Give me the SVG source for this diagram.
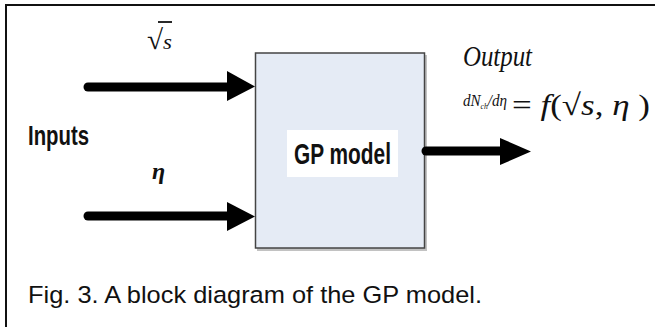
<svg xmlns="http://www.w3.org/2000/svg" width="655" height="327" viewBox="0 0 655 327">
  <defs>
    <style>
      .sans { font-family: "Liberation Sans", Arial, sans-serif; fill: #111; }
      .serif { font-family: "Liberation Serif", "Times New Roman", serif; fill: #111; }
      .arrow { stroke: #000; stroke-width: 9; stroke-linecap: round; fill: none; }
      .head { fill: #000; }
    </style>
  </defs>
  <rect x="0" y="0" width="655" height="327" fill="#ffffff"/>
  <!-- outer frame -->
  <rect x="6" y="5" width="680" height="360" fill="none" stroke="#111" stroke-width="2"/>

  <!-- GP model node -->
  <g id="gp-model">
    <rect x="257" y="55" width="170" height="196" fill="#9a9a9a" opacity="0.6"/>
    <rect x="255.5" y="53" width="169" height="195" fill="#e5ebf5" stroke="#444" stroke-width="1.5"/>
    <rect x="287" y="130" width="111" height="47" fill="#ffffff"/>
    <text x="294" y="164" class="sans" font-weight="bold" font-size="30" textLength="97" lengthAdjust="spacingAndGlyphs">GP model</text>
  </g>

  <!-- Inputs label group -->
  <g id="inputs">
    <text x="28" y="145" class="sans" font-size="28" font-weight="bold" textLength="61" lengthAdjust="spacingAndGlyphs">Inputs</text>
    <g id="input-sqrt-s">
      <text x="147" y="49" class="serif" font-size="28" textLength="25" lengthAdjust="spacingAndGlyphs">√<tspan font-style="italic" font-size="22">s</tspan></text>
      <line x1="158" y1="22" x2="172" y2="22" stroke="#111" stroke-width="1.8"/>
    </g>
    <g id="input-eta">
      <text x="152" y="179" class="serif" font-size="24" font-style="italic" font-weight="bold">η</text>
    </g>
  </g>

  <!-- Output -->
  <g id="output">
    <text x="463" y="66" class="serif" font-size="30" font-style="italic" textLength="69" lengthAdjust="spacingAndGlyphs">Output</text>
    <text x="463" y="106" class="serif" font-size="16" font-style="italic" textLength="44" lengthAdjust="spacingAndGlyphs">dN<tspan font-size="8" dy="3">ch</tspan><tspan dy="-3">/dη</tspan></text>
    <text x="512" y="115" class="serif" font-size="30" textLength="138" lengthAdjust="spacingAndGlyphs">= <tspan font-style="italic">f</tspan>(√<tspan font-style="italic">s</tspan>,  <tspan font-style="italic">η</tspan> )</text>
  </g>

  <!-- connectors -->
  <g id="connectors">
    <line class="arrow" x1="88" y1="87" x2="230" y2="87"/>
    <polygon class="head" points="227,71 255,86.5 227,101"/>
    <line class="arrow" x1="88" y1="216" x2="230" y2="216"/>
    <polygon class="head" points="227,202 255,216.5 227,231"/>
    <line class="arrow" x1="426" y1="151" x2="503" y2="151"/>
    <polygon class="head" points="500,138 531,151.5 500,165"/>
  </g>

  <!-- caption -->
  <text x="28" y="303" class="sans" font-size="24.5" textLength="454" lengthAdjust="spacingAndGlyphs">Fig. 3. A block diagram of the GP model.</text>
</svg>
